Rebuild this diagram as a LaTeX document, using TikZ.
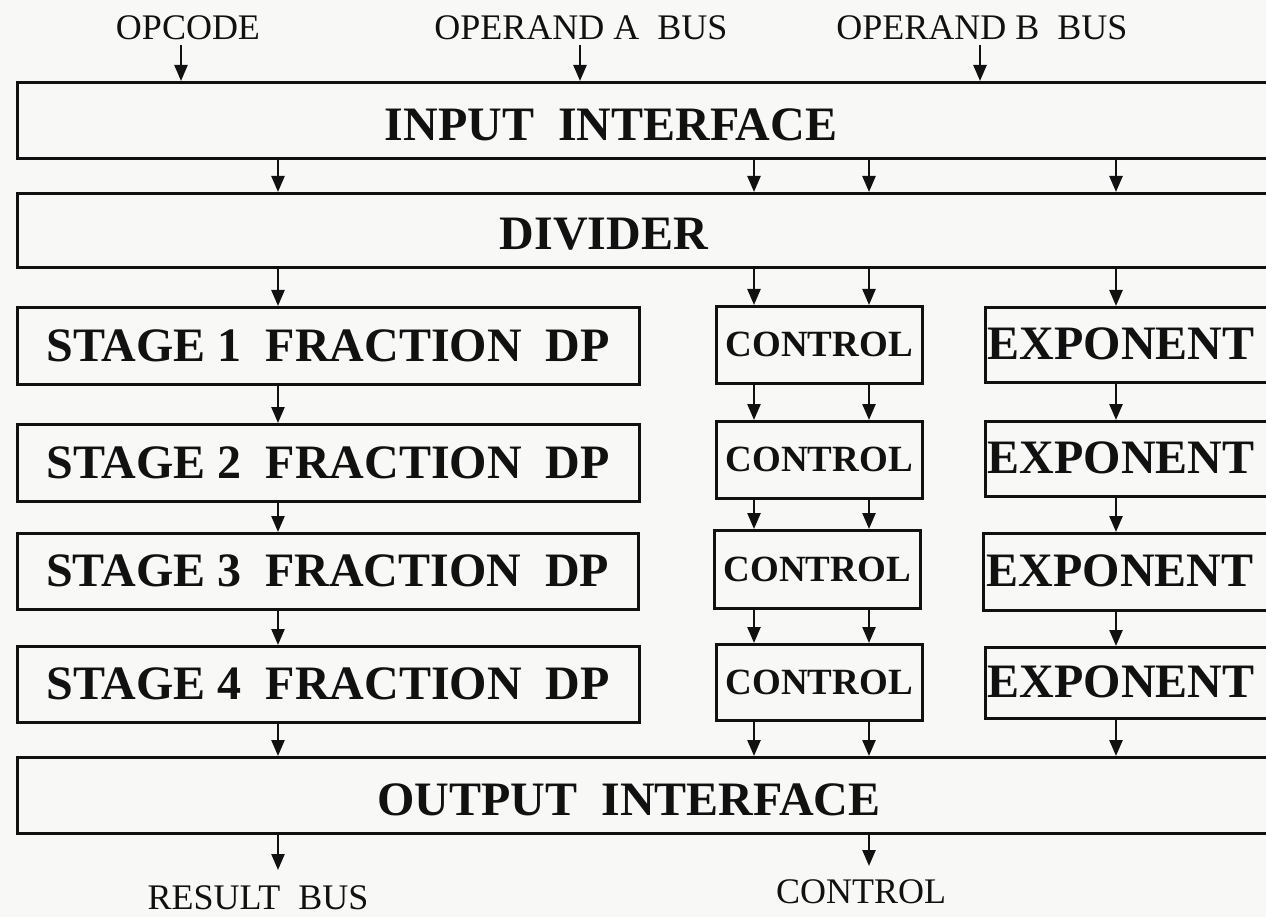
\documentclass[tikz,border=0pt]{standalone}
\usepackage{fontspec}
\setmainfont{Liberation Serif}
\usetikzlibrary{arrows.meta}
\definecolor{paper}{HTML}{F8F8F6}
\definecolor{ink}{HTML}{111111}
\tikzset{
  blk/.style={draw=ink, line width=2.6pt, inner sep=0pt, anchor=north west},
  bigtxt/.style={font=\fontsize{48}{48}\selectfont\bfseries, inner sep=0pt, text=ink},
  ctltxt/.style={font=\fontsize{37}{37}\selectfont\bfseries, text=ink},
  iotxt/.style={font=\fontsize{36}{36}\selectfont, inner sep=0pt, text=ink},
  arr/.style={draw=ink, line width=2.4pt, -{Triangle[length=16pt,width=13pt]}},
}
\newcommand{\blkbox}[6]{% name, x1, y1, x2, y2, options
  \node[blk, minimum width={#4-#2}, minimum height={#5-#3}, #6] (#1) at (#2,#3) {};}
\begin{document}
\begin{tikzpicture}[x=1pt, y=-1pt]
  \fill[paper] (0,0) rectangle (1266,917);
  \useasboundingbox (0,0) rectangle (1266,917);
  \clip (0,0) rectangle (1266,917);

  % bus columns
  \coordinate (cF) at (278,0);
  \coordinate (cA) at (754,0);
  \coordinate (cB) at (869,0);
  \coordinate (cE) at (1116,0);

  % wide blocks
  \blkbox{ii}{16}{81}{1280}{157}{}
  \blkbox{dv}{16}{192}{1280}{266}{}
  \blkbox{oi}{16}{756}{1280}{832}{}
  \node[bigtxt] at (611,125) {INPUT~~INTERFACE};
  \node[bigtxt] at (604,234) {DIVIDER};
  \node[bigtxt] at (629,800) {OUTPUT~~INTERFACE};

  % fraction data path stages
  \node[blk, minimum width=622pt, minimum height=77pt, bigtxt, inner sep=0pt] (s1) at (16,306) {STAGE 1~~FRACTION~~DP};
  \node[blk, minimum width=622pt, minimum height=77pt, bigtxt, inner sep=0pt] (s2) at (16,423) {STAGE 2~~FRACTION~~DP};
  \node[blk, minimum width=621pt, minimum height=76pt, bigtxt, inner sep=0pt] (s3) at (16,532) {STAGE 3~~FRACTION~~DP};
  \node[blk, minimum width=622pt, minimum height=76pt, bigtxt, inner sep=0pt] (s4) at (16,645) {STAGE 4~~FRACTION~~DP};

  % control stages
  \node[blk, minimum width=206pt, minimum height=77pt, ctltxt] (c1) at (715,305) {CONTROL};
  \node[blk, minimum width=206pt, minimum height=77pt, ctltxt] (c2) at (715,420) {CONTROL};
  \node[blk, minimum width=206pt, minimum height=78pt, ctltxt] (c3) at (713,529) {CONTROL};
  \node[blk, minimum width=206pt, minimum height=76pt, ctltxt] (c4) at (715,643) {CONTROL};

  % exponent stages
  \blkbox{e1}{984}{306}{1280}{381}{}
  \blkbox{e2}{984}{420}{1280}{495}{}
  \blkbox{e3}{982}{532}{1280}{609}{}
  \blkbox{e4}{984}{646}{1280}{717}{}
  \node[bigtxt] at (1121,344) {EXPONENT};
  \node[bigtxt] at (1121,458) {EXPONENT};
  \node[bigtxt] at (1120,571) {EXPONENT};
  \node[bigtxt] at (1121,682) {EXPONENT};

  % external inputs
  \node[iotxt] (op)  at (188,28) {OPCODE};
  \node[iotxt] (opa) at (581,28) {OPERAND~A~~BUS};
  \node[iotxt] (opb) at (982,28) {OPERAND~B~~BUS};
  \coordinate (t1) at (181,45);
  \coordinate (t2) at (580,45);
  \coordinate (t3) at (980,45);
  \draw[arr] (t1) -- (t1 |- ii.north);
  \draw[arr] (t2) -- (t2 |- ii.north);
  \draw[arr] (t3) -- (t3 |- ii.north);

  % input interface -> divider
  \foreach \c in {cF,cA,cB,cE}
    \draw[arr] (ii.south -| \c) -- (dv.north -| \c);

  % divider -> first stages
  \draw[arr] (dv.south -| cF) -- (s1.north -| cF);
  \draw[arr] (dv.south -| cA) -- (c1.north -| cA);
  \draw[arr] (dv.south -| cB) -- (c1.north -| cB);
  \draw[arr] (dv.south -| cE) -- (e1.north -| cE);

  % stage to stage
  \draw[arr] (s1.south -| cF) -- (s2.north -| cF);
  \draw[arr] (s2.south -| cF) -- (s3.north -| cF);
  \draw[arr] (s3.south -| cF) -- (s4.north -| cF);
  \draw[arr] (s4.south -| cF) -- (oi.north -| cF);

  \foreach \c in {cA,cB}{
    \draw[arr] (c1.south -| \c) -- (c2.north -| \c);
    \draw[arr] (c2.south -| \c) -- (c3.north -| \c);
    \draw[arr] (c3.south -| \c) -- (c4.north -| \c);
    \draw[arr] (c4.south -| \c) -- (oi.north -| \c);
  }

  \draw[arr] (e1.south -| cE) -- (e2.north -| cE);
  \draw[arr] (e2.south -| cE) -- (e3.north -| cE);
  \draw[arr] (e3.south -| cE) -- (e4.north -| cE);
  \draw[arr] (e4.south -| cE) -- (oi.north -| cE);

  % outputs
  \coordinate (b1) at (278,870);
  \coordinate (b2) at (869,866);
  \draw[arr] (oi.south -| b1) -- (b1);
  \draw[arr] (oi.south -| b2) -- (b2);
  \node[iotxt] (rb) at (258,898) {RESULT~~BUS};
  \node[iotxt] (ctl) at (861,892) {CONTROL};
\end{tikzpicture}
\end{document}
